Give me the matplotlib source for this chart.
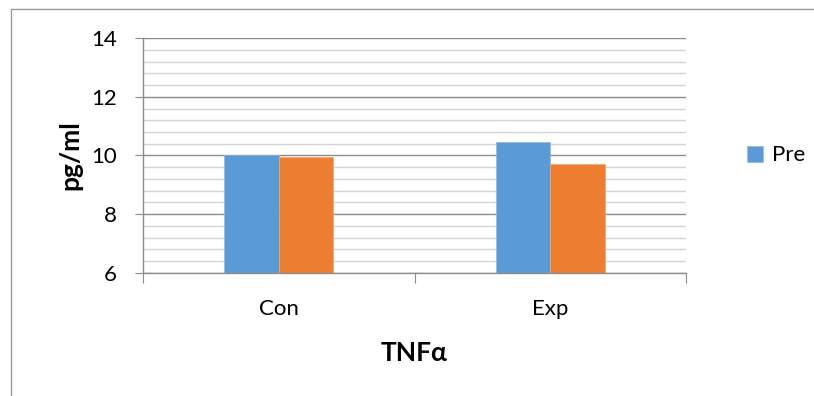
import numpy as np
import matplotlib.pyplot as plt
from matplotlib.patches import Rectangle
from matplotlib.ticker import MultipleLocator

groups = ['Con', 'Exp']
pre = [10.0, 10.47]
post = [9.96, 9.72]

plt.rcParams['font.family'] = ['Lato', 'DejaVu Sans']

fig = plt.figure(figsize=(8.14, 3.96), dpi=100)
ax = fig.add_axes([0.1757, 0.3114, 0.6671, 0.5919])

x = np.arange(len(groups))
w = 0.2
ax.bar(x - w / 2, pre, w, color='#5B9BD5', edgecolor='#8fbbe3', linewidth=0.5,
       label='Pre', zorder=3)
ax.bar(x + w / 2, post, w, color='#ED7D31', edgecolor='#f3a66f', linewidth=0.5, zorder=3)

ax.set_xlim(-0.5, 1.5)
ax.set_ylim(6, 14)
ax.yaxis.set_major_locator(MultipleLocator(2))
ax.yaxis.set_minor_locator(MultipleLocator(0.4))
ax.grid(axis='y', which='major', color='#8c8c8c', linewidth=1.0, zorder=1)
ax.grid(axis='y', which='minor', color='#d4d4d4', linewidth=1.0, zorder=1)

# category ticks sit on the group boundaries
ax.set_xticks([-0.5, 0.5, 1.5])
ax.set_xticklabels([])
ax.set_xticks(x, minor=True)
ax.set_xticklabels(groups, minor=True, fontsize=16)
ax.tick_params(axis='x', which='major', direction='out', length=7, color='#8c8c8c')
ax.tick_params(axis='x', which='minor', length=0, pad=19)
ax.tick_params(axis='y', which='major', direction='out', length=6, color='#8c8c8c',
               labelsize=16, pad=13)
ax.tick_params(axis='y', which='minor', length=0)

for s in ['top', 'right']:
    ax.spines[s].set_visible(False)
for s in ['left', 'bottom']:
    ax.spines[s].set_color('#8c8c8c')
    ax.spines[s].set_linewidth(1.0)
    ax.spines[s].set_zorder(4)

ax.set_ylabel('pg/ml', fontsize=19, fontweight='bold', labelpad=6)
ax.set_xlabel('TNF\u03b1', fontsize=19, fontweight='bold', labelpad=16)

ax.legend(loc='center left', bbox_to_anchor=(1.075, 0.5), frameon=False, fontsize=16,
          handlelength=0.75, handleheight=0.75, handletextpad=0.4)

# chart area border
fig.patches.append(Rectangle((11 / 814, -0.1), 1.2, 1 - 9 / 396 + 0.1,
                             transform=fig.transFigure, fill=False,
                             edgecolor='#9a9a9a', linewidth=1.0))

fig.savefig('out.png', dpi=100)
